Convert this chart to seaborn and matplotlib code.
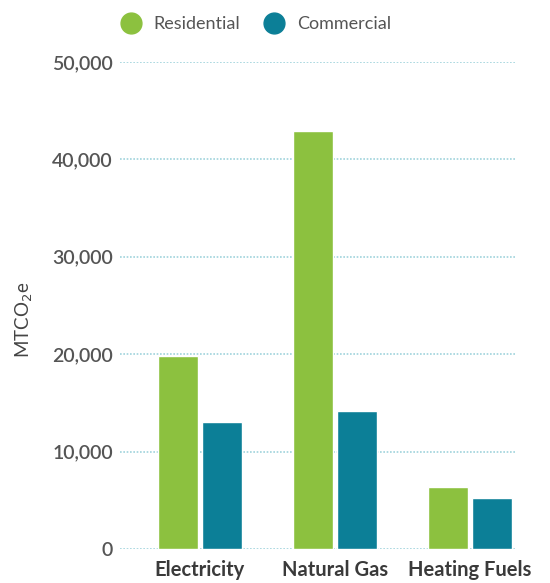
import matplotlib
matplotlib.use("Agg")
import matplotlib.pyplot as plt
from matplotlib.lines import Line2D
import seaborn as sns
import pandas as pd

categories = ["Electricity", "Natural Gas", "Heating Fuels"]
series = ["Residential", "Commercial"]
residential = [19800, 42900, 6400]
commercial = [13000, 14150, 5300]
y_ticks = [0, 10000, 20000, 30000, 40000, 50000]
y_tick_labels = ["0", "10,000", "20,000", "30,000", "40,000", "50,000"]

colors = {"Residential": "#8cc13f", "Commercial": "#0c7f97"}

df = pd.DataFrame({
    "category": categories * 2,
    "series": [series[0]] * 3 + [series[1]] * 3,
    "value": residential + commercial,
})

sns.set_theme(style="white")
plt.rcParams["font.family"] = ["Lato", "DejaVu Sans"]

fig = plt.figure(figsize=(5.5, 5.83), dpi=100)
ax = fig.add_axes([0.218, 0.058, 0.718, 0.836])

sns.barplot(data=df, x="category", y="value", hue="series", order=categories,
            hue_order=series, palette=colors, width=0.65, gap=0.09,
            saturation=1, errorbar=None, legend=False, ax=ax)

ax.set_ylim(0, 50000)
ax.set_xlim(-0.593, 2.333)
ax.set_yticks(y_ticks)
ax.set_yticklabels(y_tick_labels, fontsize=14, color="#555555", fontweight="semibold")
ax.tick_params(axis="y", length=0, pad=5)
ax.tick_params(axis="x", length=0, pad=8)
for lbl in ax.get_xticklabels():
    lbl.set_fontsize(14.5)
    lbl.set_fontweight("bold")
    lbl.set_color("#3a3a3a")

ax.yaxis.grid(True, color="#9fd3dc", linestyle=(0, (1, 1)), linewidth=1.2)
ax.set_axisbelow(True)
for s in ax.spines.values():
    s.set_visible(False)

ax.set_xlabel("")
ax.set_ylabel(r"MTCO$_2$e", fontsize=13.5, color="#444444")
ax.yaxis.set_label_coords(-0.215, 0.47)

handles = [Line2D([], [], marker="o", linestyle="", markersize=15,
                  markerfacecolor=colors[s], markeredgecolor=colors[s], label=s)
           for s in series]
fig.legend(handles=handles, loc="center", bbox_to_anchor=(0.458, 0.958),
           ncol=2, frameon=False, fontsize=13, handletextpad=0.25,
           columnspacing=0.9, labelcolor="#555555")

fig.savefig("out.png", dpi=100)
